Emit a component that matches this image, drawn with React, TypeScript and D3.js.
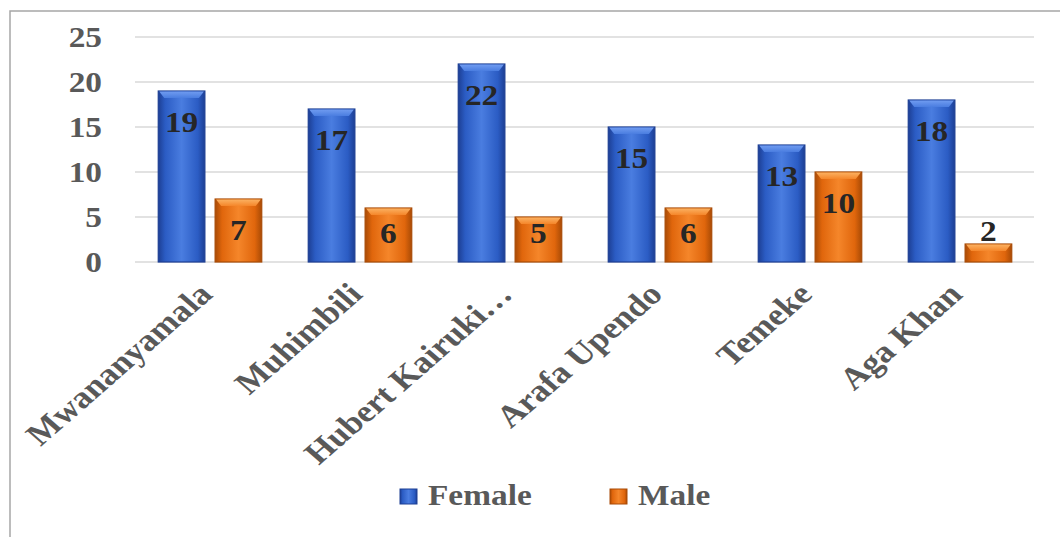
import React from "react";
import * as d3 from "d3";

const categories = ["Mwananyamala", "Muhimbili", "Hubert Kairuki…", "Arafa Upendo", "Temeke", "Aga Khan"];
const female = [19, 17, 22, 15, 13, 18];
const male = [7, 6, 5, 6, 10, 2];
const series = ["Female", "Male"];
const yTicks = [0, 5, 10, 15, 20, 25];

const W = 1060;
const H = 537;
const FONT = "'Liberation Serif', 'Times New Roman', serif";
const SX = 1.15; // the picture is stretched sideways, so is the text

const palette = {
  Female: { dark: "#1d3f94", mid: "#2b5cc4", light: "#4a7de0", top: "#6f9bf0" },
  Male: { dark: "#a94b06", mid: "#e0660c", light: "#f5862a", top: "#fbb060" },
};

export default function App() {
  const x0 = d3.scaleBand<string>().domain(categories).range([135, 1035]).paddingInner(0.31).paddingOuter(0.155);
  const x1 = d3.scaleBand<string>().domain(series).range([0, x0.bandwidth()]).paddingInner(0.18);
  const y = d3.scaleLinear().domain([0, 25]).range([262, 37]);
  const values = { Female: female, Male: male };

  const bar = (s: string, i: number) => {
    const v = values[s][i];
    const bx = (x0(categories[i]) ?? 0) + (x1(s) ?? 0);
    const bw = x1.bandwidth();
    const top = y(v);
    const h = y(0) - top;
    const bev = Math.min(7, h / 2);
    const inside = h >= 30;
    // label sits inside the bar top, or above when the bar is too short
    const ly = inside ? Math.min(top + 41, y(0) - 19) : top - 3;
    return (
      <g key={s + i}>
        <rect x={bx} y={top} width={bw} height={h} fill={`url(#g-${s})`} stroke={palette[s].dark} strokeWidth={1.2} />
        <path
          d={`M${bx + 1},${top + 0.6} L${bx + bw - 1},${top + 0.6} L${bx + bw - 6},${top + bev} L${bx + 6},${top + bev} Z`}
          fill={`url(#t-${s})`}
        />
        <g transform={`translate(${bx + bw / 2},${ly}) scale(${SX},1)`}>
          <text textAnchor="middle" fontFamily={FONT} fontWeight="bold" fontSize={29} fill="#262626">
            {v}
          </text>
        </g>
      </g>
    );
  };

  return (
    <svg width={W} height={H} style={{ position: "absolute", left: 0, top: 0, display: "block" }}>
      <defs>
        {series.map((s) => (
          <React.Fragment key={s}>
            <linearGradient id={`g-${s}`} x1="0" x2="1" y1="0" y2="0">
              <stop offset="0" stopColor={palette[s].dark} />
              <stop offset="0.15" stopColor={palette[s].mid} />
              <stop offset="0.5" stopColor={palette[s].light} />
              <stop offset="0.85" stopColor={palette[s].mid} />
              <stop offset="1" stopColor={palette[s].dark} />
            </linearGradient>
            <linearGradient id={`t-${s}`} x1="0" x2="0" y1="0" y2="1">
              <stop offset="0" stopColor={palette[s].top} />
              <stop offset="1" stopColor={palette[s].light} />
            </linearGradient>
          </React.Fragment>
        ))}
      </defs>
      <rect x={0} y={0} width={W} height={H} fill="#fff" />
      <rect x={10} y={11} width={W + 20} height={H + 20} fill="none" stroke="#a6a6a6" strokeWidth={1.5} />

      {/* grid + y labels */}
      {yTicks.map((t) => (
        <g key={t}>
          <line x1={135} x2={1034} y1={y(t)} y2={y(t)} stroke="#d9d9d9" strokeWidth={1.5} />
          <g transform={`translate(102,${y(t)}) scale(${SX},1)`}>
            <text textAnchor="end" dy="0.35em" fontFamily={FONT} fontWeight="bold" fontSize={29} fill="#595959">
              {t}
            </text>
          </g>
        </g>
      ))}

      {categories.map((c, i) => series.map((s) => bar(s, i)))}

      {/* category labels */}
      {categories.map((c) => (
        <g key={c} transform={`translate(${(x0(c) ?? 0) + x0.bandwidth() / 2 + 4},296) scale(${SX},1) rotate(-45)`}>
          <text textAnchor="end" fontFamily={FONT} fontWeight="bold" fontSize={31} fill="#595959">
            {c}
          </text>
        </g>
      ))}

      {/* legend */}
      {series.map((s, i) => {
        const lx = 400 + i * 210;
        return (
          <g key={s}>
            <rect x={lx} y={489} width={17} height={15} fill={`url(#g-${s})`} stroke={palette[s].dark} strokeWidth={1} />
            <g transform={`translate(${lx + 28},505) scale(${SX},1)`}>
              <text fontFamily={FONT} fontWeight="bold" fontSize={29} fill="#595959">
                {s}
              </text>
            </g>
          </g>
        );
      })}
    </svg>
  );
}
